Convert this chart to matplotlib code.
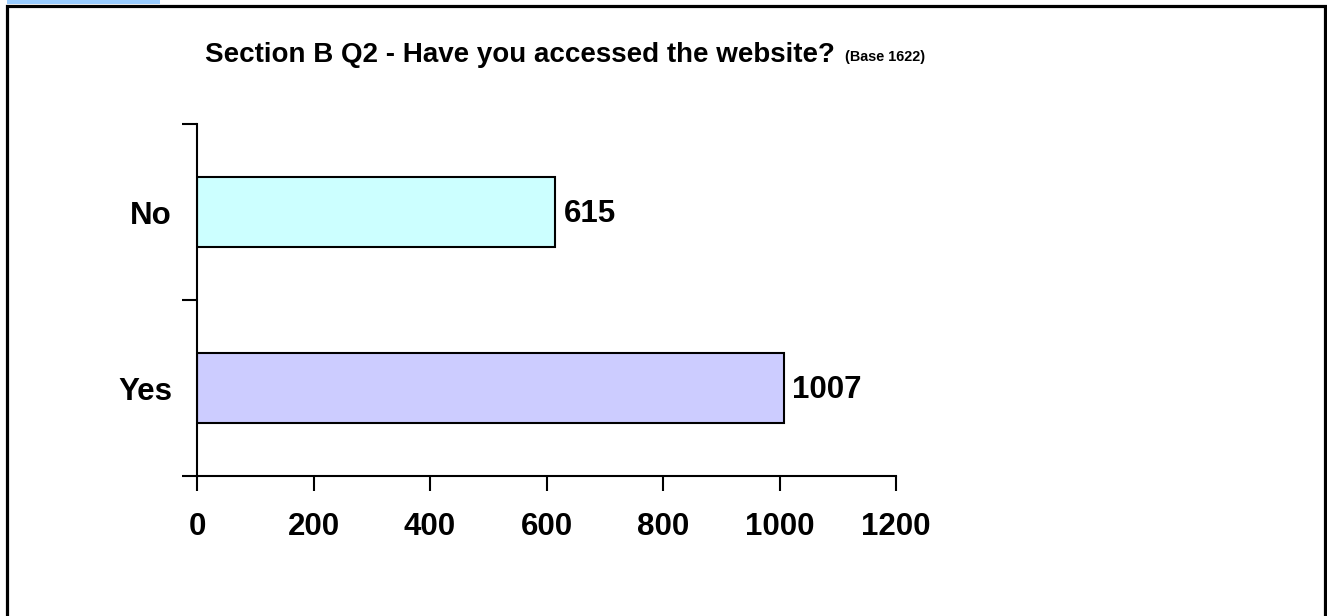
import matplotlib.pyplot as plt
from matplotlib.patches import Rectangle

categories = ["Yes", "No"]
counts = [1007, 615]
bar_colors = ["#CCCCFF", "#CCFFFF"]
xticks = [0, 200, 400, 600, 800, 1000, 1200]

plt.rcParams['font.family'] = ['Liberation Sans', 'DejaVu Sans']

W, H = 1327, 616
fig = plt.figure(figsize=(W / 100, H / 100), dpi=100)

# frame around the chart area and the small blue tab at top-left
fig.patches.append(Rectangle((7 / W, -0.1), 1318 / W, 1.1 - 5.5 / H, transform=fig.transFigure,
                             fill=False, edgecolor="black", linewidth=2.3))
fig.patches.append(Rectangle((7 / W, 1 - 3.5 / H), 153 / W, 3.5 / H, transform=fig.transFigure,
                             facecolor="#99CCFF", edgecolor="none"))

ax = fig.add_axes([197 / W, 1 - 476 / H, 699 / W, 352 / H])
y = range(len(categories))
ax.barh(y, counts, height=0.4, color=bar_colors, edgecolor="black", linewidth=1.5)
for yi, c in zip(y, counts):
    ax.text(c + 15, yi - 0.01, str(c), va="center", ha="left", fontsize=22.5, fontweight="bold")

ax.set_xlim(0, 1200)
ax.set_ylim(-0.5, 1.5)
ax.set_xticks(xticks)
ax.set_xticklabels([str(t) for t in xticks], fontsize=22.5, fontweight="bold")
ax.set_yticks([-0.5, 0.5, 1.5])
ax.set_yticklabels([])
ax.set_yticks([0, 1], minor=True)
ax.set_yticklabels(categories, minor=True, fontsize=22.5, fontweight="bold")
ax.tick_params(axis="y", which="minor", length=0, pad=18)
ax.tick_params(axis="y", which="major", length=11, width=1.5, direction="out")
ax.tick_params(axis="x", length=11, width=1.5, direction="out", pad=15)
ax.spines["top"].set_visible(False)
ax.spines["right"].set_visible(False)
ax.spines["left"].set_linewidth(1.5)
ax.spines["bottom"].set_linewidth(1.5)

fig.text(205 / W, 1 - 55 / H, "Section B Q2 - Have you accessed the website?", fontsize=20,
         fontweight="bold", va="center", ha="left")
fig.text(845 / W, 1 - 57 / H, "(Base 1622)", fontsize=10.4, fontweight="bold", va="center", ha="left")

fig.savefig("out.png", dpi=100)
